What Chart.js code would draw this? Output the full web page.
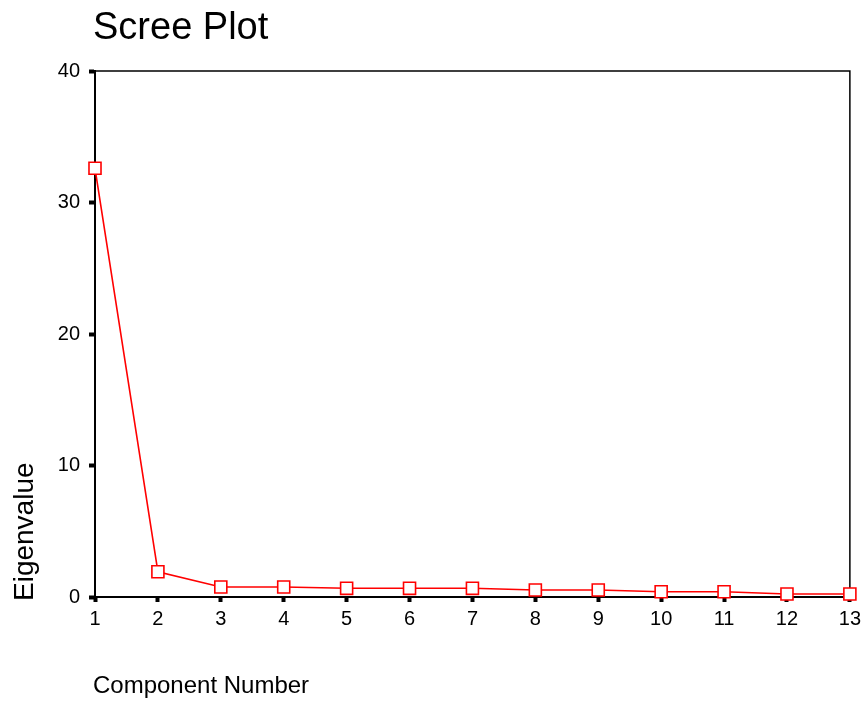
<!DOCTYPE html>
<html>
<head>
<meta charset="utf-8">
<script src="https://cdn.jsdelivr.net/npm/chart.js@4/dist/chart.umd.min.js"></script>
<style>
  html, body { margin: 0; padding: 0; background: #fff; }
  #wrap { width: 866px; height: 706px; position: relative; }
</style>
</head>
<body>
<div id="wrap"><canvas id="scree" width="866" height="706"></canvas></div>
<script>
// component numbers and their eigenvalues
var components = [1, 2, 3, 4, 5, 6, 7, 8, 9, 10, 11, 12, 13];
var eigenvalues = [32.6, 1.92, 0.76, 0.76, 0.66, 0.66, 0.66, 0.53, 0.53, 0.40, 0.40, 0.23, 0.23];
var yTicks = [0, 10, 20, 30, 40];

var FONT = '"Liberation Sans", Arial, sans-serif';

// frame around plot + titles
var framePlugin = {
    id: 'frame',
    beforeDatasetsDraw: function(chart){
        var ctx = chart.ctx;
        var a = chart.chartArea;
        ctx.save();
        ctx.strokeStyle = '#000';
        ctx.lineWidth = 1.5;
        ctx.beginPath();
        ctx.moveTo(a.left, a.top);
        ctx.lineTo(a.right, a.top);
        ctx.lineTo(a.right, a.bottom);
        ctx.stroke();
        ctx.restore();
    },
    afterDraw: function(chart){
        var ctx = chart.ctx;
        ctx.save();
        ctx.fillStyle = '#000';
        ctx.textBaseline = 'alphabetic';
        ctx.textAlign = 'left';
        ctx.font = '38px ' + FONT;
        ctx.fillText('Scree Plot', 93, 39);

        ctx.font = '24px ' + FONT;
        ctx.fillText('Component Number', 93, 693);

        ctx.font = '28px ' + FONT;
        ctx.translate(33, 601);
        ctx.rotate(-Math.PI / 2);
        ctx.fillText('Eigenvalue', 0, 0);
        ctx.restore();
    }
};

var ctx = document.getElementById('scree');
var chart = new Chart(ctx, {
    type: 'line',
    plugins: [framePlugin],
    data: {
        datasets: [{
            label: 'Eigenvalue',
            data: components.map(function(c, i){ return { x: c, y: eigenvalues[i] }; }),
            borderColor: '#ff0000',
            borderWidth: 1.6,
            backgroundColor: '#ffffff',
            pointStyle: 'rect',
            pointRadius: 8.5,
            pointBorderWidth: 1.6,
            pointBorderColor: '#ff0000',
            pointBackgroundColor: '#ffffff',
            tension: 0,
            clip: false
        }]
    },
    options: {
        responsive: false,
        animation: false,
        devicePixelRatio: 1,
        layout: { padding: { left: 0, right: 15, top: 71, bottom: 0 } },
        plugins: {
            legend: { display: false },
            title: { display: false },
            tooltip: { enabled: false }
        },
        scales: {
            x: {
                type: 'linear',
                min: 1,
                max: 13,
                afterFit: function(scale){ scale.height = 109; },
                border: { color: '#000', width: 2 },
                grid: {
                    drawOnChartArea: false,
                    drawTicks: true,
                    tickLength: 5,
                    tickWidth: 4,
                    tickColor: '#000'
                },
                ticks: {
                    stepSize: 1,
                    autoSkip: false,
                    padding: 5,
                    color: '#000',
                    font: { family: FONT, size: 20 },
                    maxRotation: 0
                }
            },
            y: {
                min: 0,
                max: 40,
                afterFit: function(scale){ scale.width = 95; },
                afterBuildTicks: function(scale){
                    scale.ticks = yTicks.map(function(v){ return { value: v }; });
                },
                border: { color: '#000', width: 2 },
                grid: {
                    drawOnChartArea: false,
                    drawTicks: true,
                    tickLength: 6,
                    tickWidth: 4,
                    tickColor: '#000'
                },
                ticks: {
                    padding: 9,
                    color: '#000',
                    font: { family: FONT, size: 20 }
                }
            }
        }
    }
});
</script>
</body>
</html>
